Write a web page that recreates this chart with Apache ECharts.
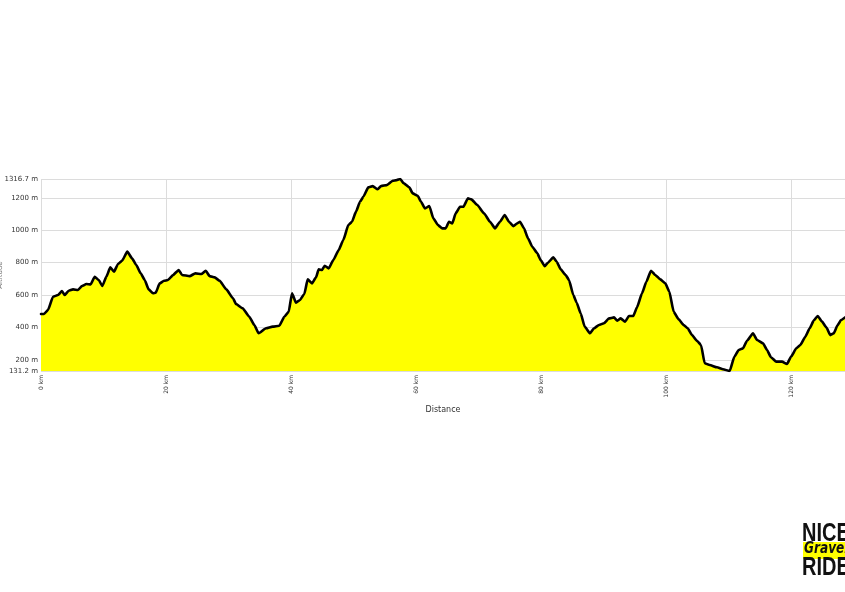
<!DOCTYPE html>
<html>
<head>
<meta charset="utf-8">
<script src="https://cdn.jsdelivr.net/npm/echarts@6/dist/echarts.min.js"></script>
<style>
html,body{margin:0;padding:0;background:#fff;}
#chart{width:845px;height:592px;}
</style>
</head>
<body>
<div id="chart"></div>
<script>
// Distance along the route (km)
const distanceKm = [0.0,0.48,1.12,1.92,2.72,3.36,3.79,4.43,5.12,5.92,6.56,7.25,7.95,8.59,9.23,9.81,10.45,11.09,11.68,12.32,12.96,13.81,14.56,15.25,15.95,16.59,17.23,17.92,18.35,18.99,19.68,20.32,21.12,22.03,22.56,23.79,24.69,25.65,26.35,26.99,27.79,28.59,29.65,30.72,31.2,32.27,33.33,34.13,34.83,36.0,37.07,38.13,38.93,39.63,40.16,40.8,41.44,42.13,42.67,43.36,44.0,44.43,44.96,45.39,46.03,46.77,47.63,48.37,49.17,49.76,50.4,51.04,51.57,52.37,53.07,53.87,54.4,55.31,56.27,56.91,57.49,58.03,58.93,59.47,60.27,60.8,61.44,62.13,62.77,63.52,64.21,64.75,65.28,65.81,66.35,67.04,67.57,68.32,68.85,69.81,70.88,71.84,72.64,73.44,74.19,74.88,75.57,76.21,76.64,77.28,77.92,78.61,79.41,79.95,80.59,81.12,81.97,82.51,83.15,83.95,84.48,85.17,85.71,86.35,86.99,87.84,88.48,89.28,90.08,90.88,91.68,92.21,92.75,93.44,94.08,94.77,95.36,96.16,96.85,97.6,98.29,99.09,99.89,100.53,101.23,102.03,102.83,103.47,104.16,104.96,105.6,106.19,106.99,108.16,109.12,110.19,110.93,111.63,112.32,112.96,113.92,114.56,115.52,116.16,116.8,117.65,118.56,119.36,120.0,120.85,121.49,122.29,122.99,123.63,124.27,124.96,125.65,126.29,126.83,127.47,128.0,128.64];
// Altitude (m)
const altitudeM = [483,483,508,590,600,625,600,627,635,631,656,668,666,713,693,656,713,771,744,792,812,868,827,785,734,693,635,611,614,672,688,693,724,755,724,717,734,730,750,717,709,688,635,580,545,518,466,415,364,395,405,411,466,497,611,553,570,607,697,672,709,759,755,781,765,816,878,940,1032,1053,1115,1176,1207,1265,1273,1253,1273,1279,1306,1310,1316.7,1290,1265,1228,1213,1176,1135,1150,1074,1032,1012,1012,1053,1043,1105,1145,1145,1197,1191,1156,1105,1053,1012,1053,1094,1053,1026,1043,1053,1012,950,898,858,816,779,800,833,806,759,724,693,600,553,487,405,364,395,415,426,456,462,442,456,436,471,471,525,611,682,750,724,697,672,621,497,450,415,395,353,318,292,179,168,154,142,131.2,219,261,271,318,364,323,302,261,216,189,189,174,219,271,292,343,395,442,471,436,401,353,364,415,446,462];
// Axis extents / labels
const altitudeMin = 131.2;
const altitudeMax = 1316.7;
const distanceMax = 128.64;
const distanceStep = 20;
const xAxisTitle = 'Distance';
const yAxisTitle = 'Altitude';
const logoLines = ['NICE', 'Gravel', 'RIDE'];

const profile = distanceKm.map((d, i) => [d, altitudeM[i]]);

const chart = echarts.init(document.getElementById('chart'), null, {renderer: 'canvas'});
const labelFont = 'DejaVu Sans';
const logoFont = 'bold 25px "Liberation Sans", sans-serif';
chart.setOption({
  animation: false,
  backgroundColor: '#ffffff',
  grid: {left: 41, right: 0, top: 179, bottom: 221, containLabel: false, outerBoundsMode: 'none'},
  xAxis: {
    type: 'value',
    min: 0,
    max: distanceMax,
    interval: distanceStep,
    name: xAxisTitle,
    nameLocation: 'middle',
    nameGap: 35,
    nameMoveOverlap: false,
    nameTextStyle: {fontFamily: labelFont, fontSize: 8, color: '#333'},
    axisLine: {show: false},
    axisTick: {show: false},
    axisLabel: {
      rotate: 90,
      fontFamily: labelFont,
      fontSize: 6,
      color: '#333',
      margin: 4,
      showMaxLabel: false,
      formatter: v => Math.round(v) + ' km'
    },
    splitLine: {show: true, lineStyle: {color: '#dcdcdc', width: 1}}
  },
  yAxis: {
    type: 'value',
    min: altitudeMin,
    max: altitudeMax,
    splitNumber: 5,
    name: yAxisTitle,
    nameLocation: 'middle',
    nameGap: 37,
    nameRotate: 90,
    nameMoveOverlap: false,
    nameTextStyle: {fontFamily: labelFont, fontSize: 7, color: '#777'},
    axisLine: {show: false},
    axisTick: {show: false},
    axisLabel: {
      fontFamily: labelFont,
      fontSize: 7,
      color: '#333',
      margin: 3,
      showMinLabel: true,
      showMaxLabel: true,
      formatter: v => (Math.round(v * 10) / 10) + ' m'
    },
    splitLine: {show: true, lineStyle: {color: '#dcdcdc', width: 1}}
  },
  series: [{
    type: 'line',
    data: profile,
    showSymbol: false,
    smooth: 0.15,
    smoothMonotone: 'x',
    lineStyle: {color: '#000000', width: 2.6, join: 'round', cap: 'round'},
    areaStyle: {color: '#ffff00', opacity: 1},
    clip: true
  }],
  graphic: [
    {type: 'text', x: 802, y: 522, scaleX: 0.8, style: {text: logoLines[0], font: logoFont, fill: '#111', verticalAlign: 'top'}},
    {type: 'rect', x: 803, y: 542, shape: {width: 60, height: 17}, style: {fill: '#ffff00'}},
    {type: 'text', x: 804, y: 542, scaleX: 0.9, style: {text: logoLines[1], font: 'italic bold 15px "DejaVu Sans Condensed", sans-serif', fill: '#111', verticalAlign: 'top'}},
    {type: 'text', x: 802, y: 556, scaleX: 0.8, style: {text: logoLines[2], font: logoFont, fill: '#111', verticalAlign: 'top'}}
  ]
});
</script>
</body>
</html>
